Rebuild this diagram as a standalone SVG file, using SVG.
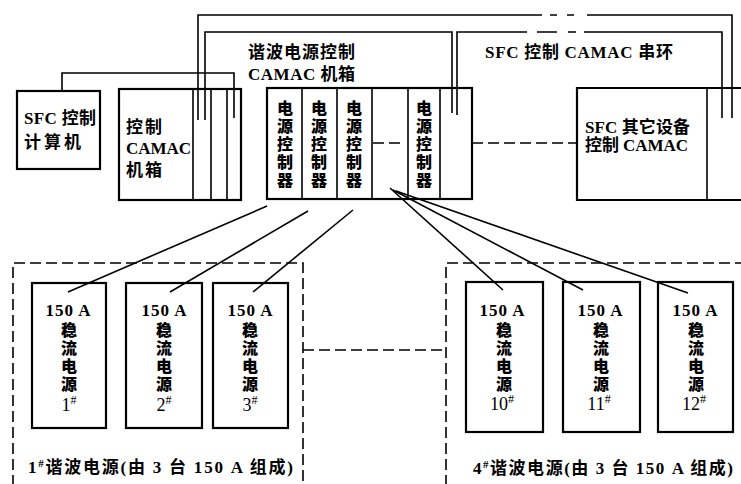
<svg xmlns="http://www.w3.org/2000/svg" width="741" height="484" viewBox="0 0 741 484">
<style>
.box{fill:none;stroke:#000;stroke-width:2.2}
.ln{fill:none;stroke:#000;stroke-width:1.6}
.dash{fill:none;stroke:#000;stroke-width:1.6;stroke-dasharray:11 5}
.t{font-family:"Liberation Serif","Noto Sans CJK SC",serif;font-weight:bold;font-size:17px;fill:#000}
.v{font-family:"Noto Sans CJK SC",sans-serif;font-weight:900;font-size:16px;fill:#000;writing-mode:vertical-rl;letter-spacing:2px}
.m{text-anchor:middle}
.n{font-family:"Liberation Serif",serif;font-size:18px;fill:#000;text-anchor:middle}
</style>
<rect width="741" height="484" fill="#fff"/>

<g id="connectors">
  <path class="ln" d="M62,91 V73 H234 V118"/>
  <path class="ln" d="M198,120 V15 H542 M550,15 H557 M567,15 H574 M587,15 H732 V118"/>
  <path class="ln" d="M205,120 V32 H452 V113"/>
  <path class="ln" d="M457,115 V32 H527 M537,32 H557 M568,32 H576 M584,32 H722 V118"/>
  <path class="dash" d="M373,143 H402"/>
  <path class="dash" d="M472,143 H577"/>
  <path class="dash" d="M303,350 H446"/>
  <path class="ln" d="M267,206 L68,292"/>
  <path class="ln" d="M308,211 L170,292"/>
  <path class="ln" d="M353,210 L253,292"/>
  <path class="ln" d="M390,188 L503,290"/>
  <path class="ln" d="M393,190 L583,290"/>
  <path class="ln" d="M396,191 L688,293"/>
</g>

<g id="computer">
  <rect class="box" x="17" y="91" width="83" height="78"/>
  <text class="t" x="24" y="124" textLength="72" lengthAdjust="spacing">SFC 控制</text>
  <text class="t" x="24" y="148" textLength="57" lengthAdjust="spacing">计算机</text>
</g>

<g id="control-crate">
  <rect class="box" x="119" y="89" width="122" height="111"/>
  <path class="ln" d="M193,89 V200 M211,89 V200 M227,89 V200"/>
  <text class="t" x="126" y="133" textLength="36" lengthAdjust="spacing">控制</text>
  <text class="t" x="126" y="154" textLength="65" lengthAdjust="spacing">CAMAC</text>
  <text class="t" x="126" y="176" textLength="36" lengthAdjust="spacing">机箱</text>
</g>

<g id="harmonic-crate-label">
  <text class="t" x="248" y="58" textLength="107" lengthAdjust="spacing">谐波电源控制</text>
  <text class="t" x="248" y="80" textLength="107" lengthAdjust="spacing">CAMAC 机箱</text>
</g>

<g id="ring-label">
  <text class="t" x="485" y="58" textLength="188" lengthAdjust="spacing">SFC 控制 CAMAC 串环</text>
</g>

<g id="harmonic-crate">
  <rect class="box" x="267" y="88" width="205" height="111"/>
  <path class="ln" d="M302,88 V199 M337,88 V199 M372,88 V199 M408,88 V199 M440,88 V199"/>
  <text class="v" x="285" y="100">电源控制器</text>
  <text class="v" x="319" y="100">电源控制器</text>
  <text class="v" x="354" y="100">电源控制器</text>
  <text class="v" x="424" y="100">电源控制器</text>
</g>

<g id="other-camac">
  <path class="box" d="M745,88 H577 V200 H745"/>
  <path class="ln" d="M707,88 V200"/>
  <text class="t" x="585" y="133" textLength="105" lengthAdjust="spacing">SFC 其它设备</text>
  <text class="t" x="585" y="151" textLength="103" lengthAdjust="spacing">控制 CAMAC</text>
</g>

<g id="group1">
  <path class="dash" d="M13,486 V263 H303 V486"/>
  <text class="t" x="28" y="473" textLength="265" lengthAdjust="spacing">1<tspan font-size="11" dy="-6">#</tspan><tspan dy="6">谐波电源(由 3 台 150 A 组成)</tspan></text>
</g>

<g id="group4">
  <path class="dash" d="M446,486 V263 H745"/>
  <text class="t" x="473" y="474" textLength="260" lengthAdjust="spacing">4<tspan font-size="11" dy="-6">#</tspan><tspan dy="6">谐波电源(由 3 台 150 A 组成)</tspan></text>
</g>

<g id="ps1">
  <rect class="box" x="32" y="283" width="74" height="145"/>
  <text class="t m" x="68" y="316" textLength="45" lengthAdjust="spacing">150 A</text>
  <text class="v" x="69" y="322">稳流电源</text>
  <text class="n" x="69" y="411">1<tspan font-size="12" dy="-7">#</tspan></text>
</g>
<g id="ps2">
  <rect class="box" x="126" y="283" width="76" height="145"/>
  <text class="t m" x="164" y="316" textLength="45" lengthAdjust="spacing">150 A</text>
  <text class="v" x="164" y="322">稳流电源</text>
  <text class="n" x="164" y="411">2<tspan font-size="12" dy="-7">#</tspan></text>
</g>
<g id="ps3">
  <rect class="box" x="213" y="283" width="75" height="145"/>
  <text class="t m" x="250" y="316" textLength="45" lengthAdjust="spacing">150 A</text>
  <text class="v" x="250" y="322">稳流电源</text>
  <text class="n" x="250" y="411">3<tspan font-size="12" dy="-7">#</tspan></text>
</g>
<g id="ps10">
  <rect class="box" x="466" y="282" width="77" height="150"/>
  <text class="t m" x="502" y="316" textLength="45" lengthAdjust="spacing">150 A</text>
  <text class="v" x="504" y="322">稳流电源</text>
  <text class="n" x="502" y="410">10<tspan font-size="12" dy="-7">#</tspan></text>
</g>
<g id="ps11">
  <rect class="box" x="563" y="282" width="77" height="150"/>
  <text class="t m" x="600" y="316" textLength="45" lengthAdjust="spacing">150 A</text>
  <text class="v" x="601" y="322">稳流电源</text>
  <text class="n" x="599" y="410">11<tspan font-size="12" dy="-7">#</tspan></text>
</g>
<g id="ps12">
  <rect class="box" x="658" y="282" width="75" height="150"/>
  <text class="t m" x="695" y="316" textLength="45" lengthAdjust="spacing">150 A</text>
  <text class="v" x="696" y="322">稳流电源</text>
  <text class="n" x="694" y="410">12<tspan font-size="12" dy="-7">#</tspan></text>
</g>
</svg>
